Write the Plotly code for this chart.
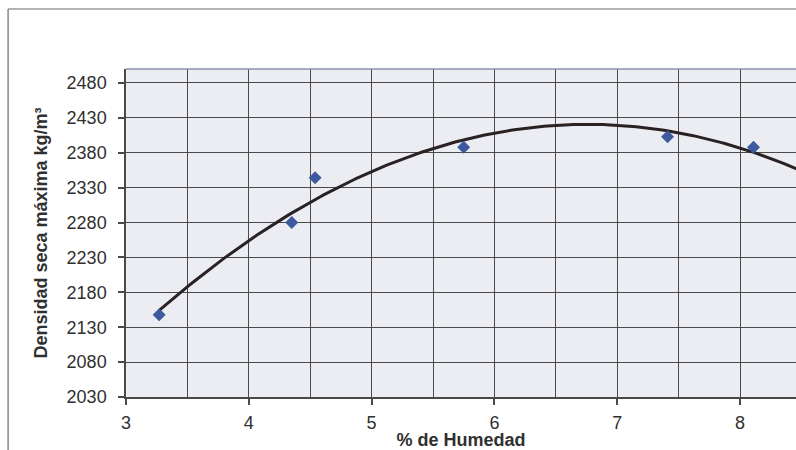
import numpy as np
import plotly.graph_objects as go

# Compaction test results: moisture content vs. maximum dry density
humedad = [3.27, 4.35, 4.54, 5.75, 7.41, 8.11]
densidad = [2148, 2280, 2344, 2388, 2403, 2388]

x_ticks = [3, 4, 5, 6, 7, 8]
y_ticks = [2030, 2080, 2130, 2180, 2230, 2280, 2330, 2380, 2430, 2480]

# Second-order polynomial trend line through the measured points
coef = np.polyfit(humedad, densidad, 2)
x_fit = np.linspace(min(humedad), 8.6, 200)
y_fit = np.polyval(coef, x_fit)

grid_color = "#4a4a4a"
text_color = "#303030"
font_family = "Liberation Sans, Arial, sans-serif"

fig = go.Figure()
fig.add_trace(go.Scatter(
    x=x_fit, y=y_fit, mode="lines",
    line=dict(color="#2a2222", width=3),
    hoverinfo="skip", showlegend=False,
))
fig.add_trace(go.Scatter(
    x=humedad, y=densidad, mode="markers",
    marker=dict(symbol="diamond", size=10, color="#3e5a9e"),
    showlegend=False,
))

fig.update_layout(
    width=796, height=450,
    margin=dict(l=126, r=0, t=69, b=53),
    paper_bgcolor="white",
    plot_bgcolor="#ececf3",
    font=dict(family=font_family, size=18, color=text_color),
    xaxis=dict(
        range=[3, 8.456],
        tickvals=x_ticks,
        ticks="outside", ticklen=6, tickcolor=grid_color, tickwidth=1.5,
        showgrid=True, gridcolor=grid_color, gridwidth=1.3,
        minor=dict(dtick=0.5, tick0=3, showgrid=True, gridcolor=grid_color, gridwidth=1.3),
        showline=True, linecolor=grid_color, linewidth=1.5,
        zeroline=False,
        ticklabelstandoff=3,
        title=dict(text="<b>% de Humedad</b>", standoff=4,
                   font=dict(size=18, color=text_color)),
    ),
    yaxis=dict(
        range=[2030, 2500],
        tickvals=y_ticks,
        ticks="outside", ticklen=6, tickcolor=grid_color, tickwidth=1.5,
        showgrid=True, gridcolor=grid_color, gridwidth=1.3,
        showline=True, linecolor=grid_color, linewidth=1.5,
        zeroline=False,
        ticklabelstandoff=8,
        title=dict(text="<b>Densidad seca máxima kg/m³</b>", standoff=14,
                   font=dict(size=18, color=text_color)),
    ),
    shapes=[
        # outer chart frame (top and left edges)
        dict(type="line", xref="paper", yref="paper",
             x0=-0.176, x1=1.01, y0=1.183, y1=1.183,
             line=dict(color="#6a6a6a", width=1.2)),
        dict(type="line", xref="paper", yref="paper",
             x0=-0.176, x1=-0.176, y0=1.183, y1=-0.2,
             line=dict(color="#6a6a6a", width=1.2)),
        # top edge of the plot area
        dict(type="line", xref="paper", yref="paper",
             x0=0, x1=1, y0=1, y1=1,
             line=dict(color="#8a8fb0", width=1.5)),
    ],
)

fig.write_html("out.html")
